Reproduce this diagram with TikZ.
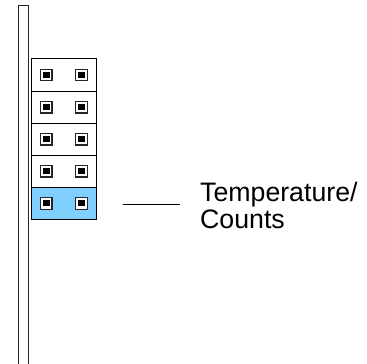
\documentclass[tikz,border=0pt]{standalone}
\usepackage{fontspec}
\setmainfont{Liberation Sans}
\definecolor{rowblue}{RGB}{128,208,255}
\begin{document}
\begin{tikzpicture}[x=1pt,y=1pt,
  rowbox/.style={draw=black,line width=1pt,minimum width=65pt,minimum height=32.1pt,inner sep=0pt,outer sep=0pt,anchor=north west},
  pin/.style={draw=black!85,fill=white,line width=1.3pt,minimum size=11.5pt,inner sep=0pt},
  pinin/.style={fill=black,minimum width=7pt,minimum height=6pt,inner sep=0pt},
  lbl/.style={font=\fontsize{26.7}{27}\selectfont,align=left,inner sep=0pt,anchor=base west}]
\useasboundingbox (0,0) rectangle (367,364);
% rail
\draw[line width=1pt,draw=black!85] (18.6,-2) -- (18.6,358.3) -- (28.3,358.3) -- (28.3,-2);
% rows
\foreach \i in {1,...,5}{
  \pgfmathsetmacro{\yt}{305-(\i-1)*32.1}
  \ifnum\i=5
    \node[rowbox,fill=rowblue] (row\i) at (31.3,\yt) {};
  \else
    \node[rowbox,fill=white] (row\i) at (31.3,\yt) {};
  \fi
  \node[pin] (pa\i) at ([xshift=-17.5pt]row\i.center) {};
  \node[pinin] at (pa\i) {};
  \node[pin] (pb\i) at ([xshift=17.6pt]row\i.center) {};
  \node[pinin] at (pb\i) {};
}
% label
\coordinate (la) at (123.3,159.7);
\coordinate (lb) at (180,159.7);
\draw[line width=1pt] (la) -- (lb);
\node[lbl] (txt) at (200,135) {Temperature/\\Counts};
\end{tikzpicture}
\end{document}
